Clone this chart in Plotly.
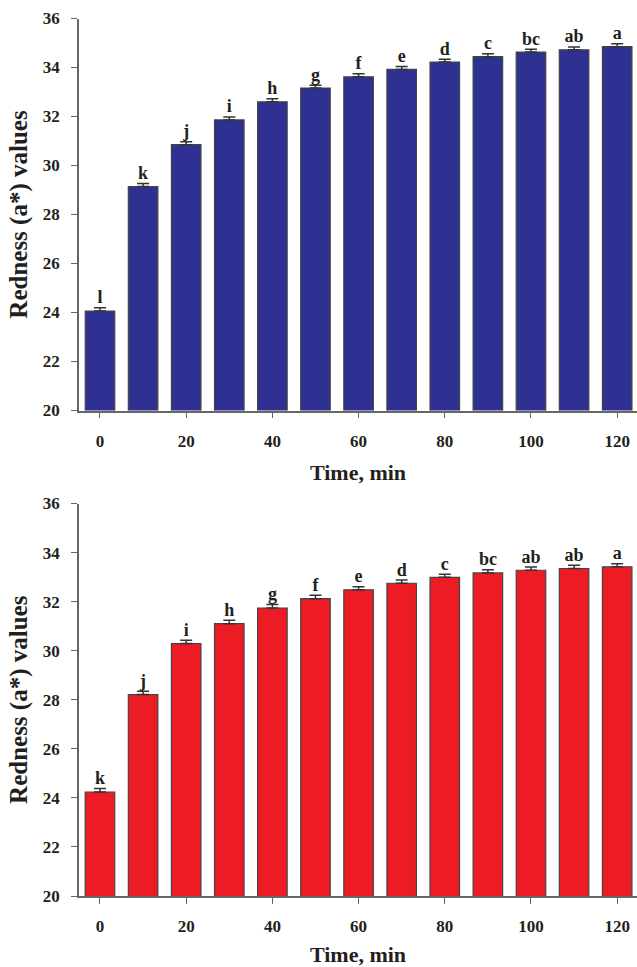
import plotly.graph_objects as go

time_min = [0, 10, 20, 30, 40, 50, 60, 70, 80, 90, 100, 110, 120]

blue_values = [24.06, 29.14, 30.85, 31.86, 32.60, 33.16, 33.62, 33.92, 34.22, 34.44, 34.63, 34.72, 34.85]
blue_errors = [0.13, 0.13, 0.12, 0.12, 0.12, 0.12, 0.12, 0.12, 0.12, 0.12, 0.11, 0.12, 0.12]
blue_letters = ["l", "k", "j", "i", "h", "g", "f", "e", "d", "c", "bc", "ab", "a"]

red_values = [24.24, 28.21, 30.29, 31.10, 31.74, 32.12, 32.48, 32.75, 32.99, 33.17, 33.28, 33.35, 33.42]
red_errors = [0.14, 0.14, 0.14, 0.14, 0.14, 0.14, 0.13, 0.13, 0.13, 0.13, 0.13, 0.13, 0.12]
red_letters = ["k", "j", "i", "h", "g", "f", "e", "d", "c", "bc", "ab", "ab", "a"]

y_ticks = [20, 22, 24, 26, 28, 30, 32, 34, 36]
x_ticks = [0, 20, 40, 60, 80, 100, 120]

BLUE = "#2E3192"
RED = "#ED1C24"
FONT = "Times New Roman, Liberation Serif, serif"
TXT = "#231F20"
W, H = 637, 967

fig = go.Figure()

def add_panel(values, errors, letters, color, xa, ya):
    fig.add_trace(go.Bar(
        x=time_min, y=values, base=0, marker=dict(color=color, line=dict(color="#444444", width=1.2)),
        width=6.85,
        error_y=dict(type="data", array=errors, arrayminus=[0] * len(errors), symmetric=False, visible=True,
                     color="#333333", thickness=1.5, width=6),
        xaxis=xa, yaxis=ya, showlegend=False, hoverinfo="skip"))
    fig.add_trace(go.Scatter(
        x=time_min, y=[v + e for v, e in zip(values, errors)], mode="text", text=letters,
        textposition="top center",
        textfont=dict(family=FONT, size=18, color=TXT, weight="bold"),
        xaxis=xa, yaxis=ya, showlegend=False, hoverinfo="skip"))

add_panel(blue_values, blue_errors, blue_letters, BLUE, "x", "y")
add_panel(red_values, red_errors, red_letters, RED, "x2", "y2")

axis_common = dict(showgrid=False, zeroline=False, showline=True, linecolor="#666666", linewidth=1.5,
                   ticks="outside", ticklen=6, tickwidth=1.2, tickcolor="#666666",
                   tickfont=dict(family=FONT, size=17, color=TXT, weight="bold"), automargin=False)

xtitle_font = dict(family=FONT, size=22, color=TXT, weight="bold")
ytitle_font = dict(family=FONT, size=25, color=TXT, weight="bold")

def ydom(top_px, bot_px):
    return [1 - bot_px / H, 1 - top_px / H]

xr = [-4.87, 124.6]
fig.update_layout(
    width=W, height=H, margin=dict(l=79, r=0, t=0, b=0),
    plot_bgcolor="white", paper_bgcolor="white",
    xaxis=dict(axis_common, range=xr, tickvals=x_ticks, anchor="y", ticklabelstandoff=8,
               title=dict(text="Time, min", font=xtitle_font, standoff=15)),
    yaxis=dict(axis_common, range=[20, 36], tickvals=y_ticks, domain=ydom(18.5, 410.5), anchor="x", ticklabelstandoff=8,
               title=dict(text="Redness (a*) values", font=ytitle_font, standoff=8)),
    xaxis2=dict(axis_common, range=xr, tickvals=x_ticks, anchor="y2", ticklabelstandoff=8,
                title=dict(text="Time, min", font=xtitle_font, standoff=20)),
    yaxis2=dict(axis_common, range=[20, 36], tickvals=y_ticks, domain=ydom(503.5, 896), anchor="x2", ticklabelstandoff=8,
                title=dict(text="Redness (a*) values", font=ytitle_font, standoff=8)),
)

fig.write_html("out.html")
